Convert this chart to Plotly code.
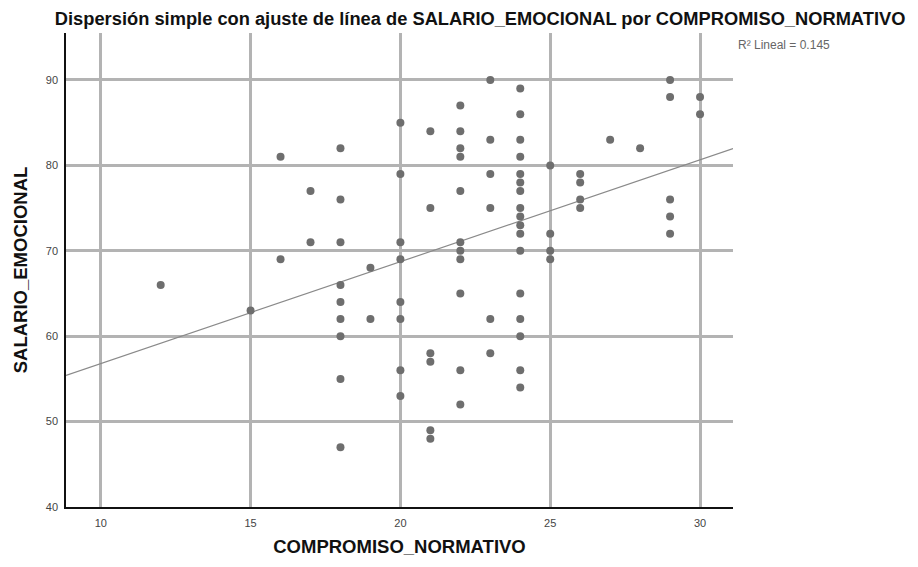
import numpy as np
import plotly.graph_objects as go

# Data (COMPROMISO_NORMATIVO -> SALARIO_EMOCIONAL values)
groups = {
    12: [66],
    15: [63],
    16: [81, 69],
    17: [77, 71],
    18: [82, 76, 71, 66, 64, 62, 60, 55, 47],
    19: [68, 62],
    20: [85, 79, 71, 69, 64, 62, 56, 53],
    21: [84, 75, 58, 57, 49, 48],
    22: [87, 84, 82, 81, 77, 71, 70, 69, 65, 56, 52],
    23: [90, 83, 79, 75, 62, 58],
    24: [89, 86, 83, 81, 79, 78, 77, 75, 74, 73, 72, 70, 65, 62, 60, 56, 54],
    25: [80, 72, 70, 69],
    26: [79, 78, 76, 75],
    27: [83],
    28: [82],
    29: [90, 88, 76, 74, 72],
    30: [88, 86],
}
compromiso = [x for x, ys in groups.items() for _ in ys]
salario = [y for ys in groups.values() for y in ys]

x_ticks = [10, 15, 20, 25, 30]
y_ticks = [40, 50, 60, 70, 80, 90]
x_range = [8.84, 31.1]
y_range = [40, 95.5]
r2_label = "R² Lineal = 0.145"

slope, intercept = np.polyfit(compromiso, salario, 1)
fit_x = np.array(x_range)
fit_y = intercept + slope * fit_x

FONT = "Liberation Sans, Arial, sans-serif"

fig = go.Figure()
fig.add_trace(go.Scatter(
    x=fit_x, y=fit_y, mode="lines",
    line=dict(color="#8a8a8a", width=1.2),
    hoverinfo="skip", showlegend=False,
))
fig.add_trace(go.Scatter(
    x=compromiso, y=salario, mode="markers",
    marker=dict(color="#6e6e6e", size=8, line=dict(width=0)),
    showlegend=False,
))

fig.update_layout(
    width=918, height=567,
    margin=dict(l=66, r=185, t=33, b=60),
    paper_bgcolor="white", plot_bgcolor="white",
    title=dict(
        text="<b>Dispersión simple con ajuste de línea de SALARIO_EMOCIONAL por COMPROMISO_NORMATIVO</b>",
        x=0.523, xanchor="center", y=0.968, yanchor="middle",
        font=dict(family=FONT, size=18.3, color="#111111"),
    ),
    xaxis=dict(
        range=x_range, tickvals=x_ticks, showgrid=True,
        gridcolor="#b3b3b3", gridwidth=2.5, zeroline=False,
        showline=True, linecolor="#111111", linewidth=1.5,
        ticks="", ticklabelstandoff=5, automargin=False,
        tickfont=dict(family=FONT, size=11, color="#444444"),
        title=dict(text="<b>COMPROMISO_NORMATIVO</b>", standoff=12,
                   font=dict(family=FONT, size=18.5, color="#111111")),
    ),
    yaxis=dict(
        range=y_range, tickvals=y_ticks, showgrid=True,
        gridcolor="#b3b3b3", gridwidth=2.5, zeroline=False,
        showline=True, linecolor="#111111", linewidth=1.5,
        ticks="", ticklabelstandoff=4, automargin=False,
        tickfont=dict(family=FONT, size=11, color="#444444"),
        title=dict(text="<b>SALARIO_EMOCIONAL</b>", standoff=13,
                   font=dict(family=FONT, size=18.5, color="#111111")),
    ),
    annotations=[dict(
        text=r2_label, xref="paper", yref="paper",
        x=1.004, y=0.975, xanchor="left", yanchor="middle",
        showarrow=False, font=dict(family=FONT, size=12, color="#666666"),
    )],
)

fig.write_html(
    "out.html",
    config={"displayModeBar": False},
    post_script="document.body.style.margin='0';",
)
